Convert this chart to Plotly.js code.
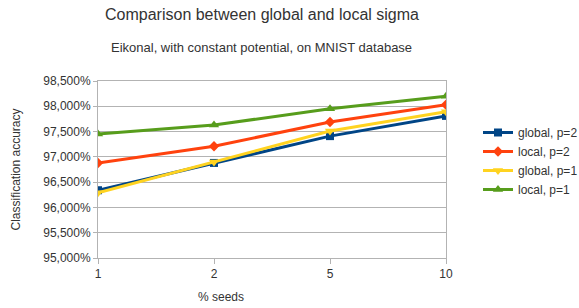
<!DOCTYPE html>
<html>
<head>
<meta charset="utf-8">
<script src="https://cdn.plot.ly/plotly-3.0.1.min.js"></script>
<style>html,body{margin:0;padding:0;background:#fff;}#chart{width:579px;height:308px;}</style>
</head>
<body>
<div id="chart"></div>
<script>
const categories = ['1', '2', '5', '10'];
const globalP2 = [96.34, 96.88, 97.41, 97.81];
const localP2 = [96.88, 97.21, 97.69, 98.03];
const globalP1 = [96.29, 96.90, 97.51, 97.89];
const localP1 = [97.45, 97.63, 97.95, 98.20];
const seriesNames = ['global, p=2', 'local, p=2', 'global, p=1', 'local, p=1'];
const yTicks = [95, 95.5, 96, 96.5, 97, 97.5, 98, 98.5];
const yTickText = yTicks.map(v => v.toFixed(3).replace('.', ',') + '%');

const styles = [
  {color: '#004586', symbol: 'square', size: 8},
  {color: '#ff420e', symbol: 'diamond', size: 8},
  {color: '#ffd320', symbol: 'triangle-down', size: 9},
  {color: '#579d1c', symbol: 'triangle-up', size: 9}
];
const data = [globalP2, localP2, globalP1, localP1].map((vals, i) => ({
  x: categories, y: vals, type: 'scatter', mode: 'lines+markers', name: seriesNames[i],
  line: {color: styles[i].color, width: 3},
  marker: {color: styles[i].color, symbol: styles[i].symbol, size: styles[i].size}
}));

const font = 'Liberation Sans, Arial, sans-serif';
const layout = {
  width: 579, height: 308,
  margin: {l: 98, r: 133, t: 81, b: 50, autoexpand: false},
  paper_bgcolor: '#fff', plot_bgcolor: '#fff',
  separators: ',.',
  font: {family: font, size: 12, color: '#333'},
  title: {text: 'Comparison between global and local sigma', font: {family: font, size: 16, color: '#333'},
          x: (262 - 98) / 348, xref: 'paper', xanchor: 'center', y: 1 - 14 / 308, yref: 'container', yanchor: 'middle'},
  xaxis: {type: 'category', range: [0, 3], showgrid: false, showline: true, linecolor: '#b3b3b3', linewidth: 1,
          mirror: true, ticks: 'outside', ticklen: 5, tickcolor: '#b3b3b3', zeroline: false,
          tickfont: {family: font, size: 12, color: '#333'}, fixedrange: true},
  yaxis: {range: [95, 98.5], tickmode: 'array', tickvals: yTicks, ticktext: yTickText, showgrid: true, gridcolor: '#b3b3b3',
          showline: true, linecolor: '#b3b3b3', mirror: true, ticks: 'outside', ticklen: 4, tickcolor: '#b3b3b3',
          zeroline: false, tickfont: {family: font, size: 12, color: '#333'},
          title: {text: 'Classification accuracy', font: {family: font, size: 12, color: '#333'}, standoff: 20}},
  showlegend: true,
  legend: {x: (478 - 98) / 348, xanchor: 'left', y: (258 - 118) / 177, yanchor: 'top', font: {family: font, size: 12, color: '#333'},
           bgcolor: 'rgba(0,0,0,0)', tracegroupgap: 0, itemwidth: 30},
  annotations: [
    {text: 'Eikonal, with constant potential, on MNIST database', xref: 'paper', yref: 'paper', x: (261 - 98) / 348, y: 1 + (81 - 47) / 177,
     xanchor: 'center', yanchor: 'middle', showarrow: false, font: {family: font, size: 13, color: '#333'}},
    {text: '% seeds', xref: 'paper', yref: 'paper', x: (221 - 98) / 348, y: -(297 - 258) / 177,
     xanchor: 'center', yanchor: 'middle', showarrow: false, font: {family: font, size: 12, color: '#333'}}
  ]
};
Plotly.newPlot('chart', data, layout, {displayModeBar: false, staticPlot: true});
</script>
</body>
</html>
